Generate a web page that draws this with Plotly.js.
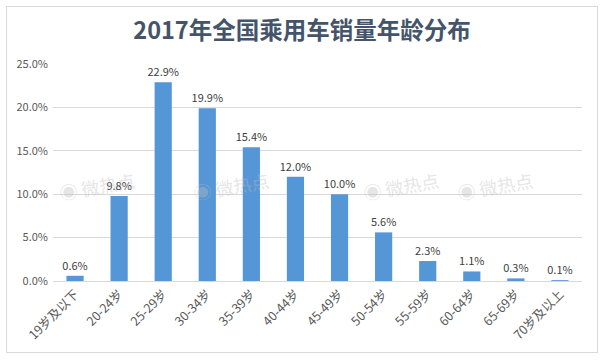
<!DOCTYPE html>
<html><head><meta charset="utf-8">
<script src="https://cdn.plot.ly/plotly-3.0.1.min.js"></script>
<style>
html,body{margin:0;padding:0;background:#fff;}
#wrap{position:absolute;left:6px;top:6px;width:590px;height:345px;border:1px solid #d9d9d9;}
#chart{width:590px;height:345px;}
</style></head>
<body><div id="wrap"><div id="chart"></div></div>
<script>
const categories = ["19岁及以下","20-24岁","25-29岁","30-34岁","35-39岁","40-44岁","45-49岁","50-54岁","55-59岁","60-64岁","65-69岁","70岁及以上"];
const values = [0.006,0.098,0.229,0.199,0.154,0.120,0.100,0.056,0.023,0.011,0.003,0.001];
const tickVals = [0,0.05,0.10,0.15,0.20,0.25];
const tickText = ["0.0%","5.0%","10.0%","15.0%","20.0%","25.0%"];
const fontFam = '"Microsoft YaHei","Noto Sans CJK SC","Liberation Sans",sans-serif';

const trace = {
  type:'bar', x:categories, y:values,
  marker:{color:'#5596d6'},
  text: values.map(v => (v*100).toFixed(1)+'%'),
  textposition:'outside', cliponaxis:false, constraintext:'none',
  textfont:{size:11,color:'#404040',family:fontFam},
  hoverinfo:'none'
};
const wm = [[0.004,0.44],[0.258,0.44],[0.657,0.44],[0.914,0.44]].map(p=>({
  xref:'paper',yref:'paper',x:p[0],y:p[1],text:'◉ 微热点',showarrow:false,textangle:-10,
  font:{size:18,color:'rgba(190,190,190,0.4)',family:fontFam}
}));
const layout = {
  width:590,height:345,
  margin:{l:46,r:15,t:57,b:71},
  paper_bgcolor:'#fff',plot_bgcolor:'#fff',
  title:{text:'<b>2017年全国乘用车销量年龄分布</b>',x:0.5,xanchor:'center',y:0.93,yanchor:'middle',
    font:{size:23.5,color:'#44546a',family:fontFam}},
  bargap:0.61,
  showlegend:false,
  xaxis:{tickangle:-45,tickfont:{size:12.5,color:'#595959',family:fontFam},automargin:false,
    showline:true,linecolor:'#d9d9d9',linewidth:1,ticks:'',fixedrange:true},
  yaxis:{range:[0,0.25],tickvals:tickVals,ticktext:tickText,automargin:false,ticklabelstandoff:4,
    tickfont:{size:11,color:'#595959',family:fontFam},
    showgrid:true,gridcolor:'#d9d9d9',gridwidth:1,zeroline:false,showline:false,ticks:'',fixedrange:true},
  annotations:wm
};
Plotly.newPlot('chart',[trace],layout,{displayModeBar:false,staticPlot:true});
</script></body></html>
